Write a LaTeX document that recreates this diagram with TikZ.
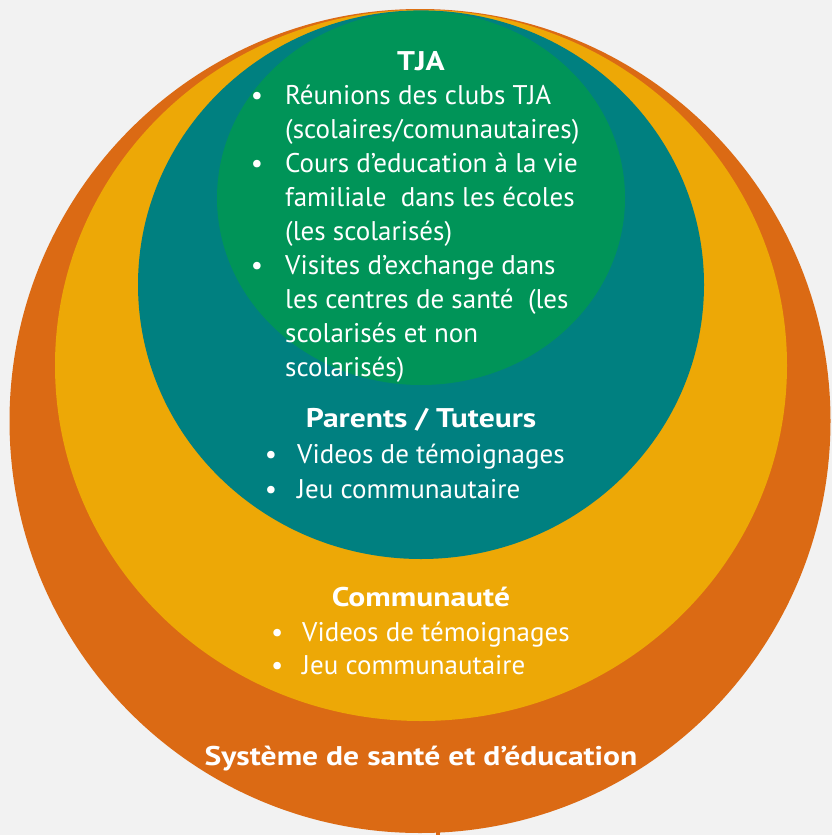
\documentclass[tikz,border=0pt]{standalone}
\usepackage{fontspec}
\setmainfont{PT Sans}
\newfontfamily\titrefont[FakeStretch=1.17]{PT Sans}
\usetikzlibrary{positioning}
\definecolor{fondgris}{RGB}{242,242,242}
\definecolor{orangesys}{RGB}{219,106,20}
\definecolor{jaunecom}{RGB}{237,168,6}
\definecolor{bleupar}{RGB}{0,128,128}
\definecolor{verttja}{RGB}{0,148,88}
\newcommand{\bul}[1][22pt]{\llap{\textbullet\hspace{#1}}}

\begin{document}
\begin{tikzpicture}[x=1pt,y=-1pt,node distance=34pt]
\tikzstyle{titre}=[font=\fontsize{27}{34}\titrefont\bfseries, text=white, inner sep=0pt, anchor=base]
\tikzstyle{ligne}=[font=\fontsize{27}{34}\selectfont, text=white, inner sep=0pt, anchor=base west]
% fond et cercles
\fill[fondgris] (0,0) rectangle (832,835);
\fill[orangesys] (420,421) ellipse [x radius=410.5, y radius=412];
\fill[orangesys] (436,832) rectangle (440,835);
\fill[jaunecom] (421,365.4) ellipse [x radius=366, y radius=355.6];
\fill[bleupar] (421,284.7) ellipse [x radius=283, y radius=274.3];
\fill[verttja] (421,198) ellipse [x radius=204, y radius=187];
% TJA
\node (tja) [titre] at (421,70) {TJA};
\node (t1) [ligne] at (285,104) {\bul Réunions des clubs TJA};
\node (t2) [below=of t1.base west, ligne] {(scolaires/comunautaires)};
\node (t3) [below=of t2.base west, ligne] {\bul Cours d’education à la vie};
\node (t4) [below=of t3.base west, ligne] {familiale~ dans les écoles};
\node (t5) [below=of t4.base west, ligne] {(les scolarisés)};
\node (t6) [below=of t5.base west, ligne] {\bul Visites d’exchange dans};
\node (t7) [below=of t6.base west, ligne] {les centres de santé~ (les};
\node (t8) [below=of t7.base west, ligne] {scolarisés et non};
\node (t9) [below=of t8.base west, ligne] {scolarisés)};
% Parents / Tuteurs
\node (par) [titre] at (421,427) {Parents / Tuteurs};
\node (p1) [ligne] at (297,463) {\bul[20pt]Videos de témoignages};
\node (p2) [below=35pt of p1.base west, ligne] {\bul[20pt]Jeu communautaire};
% Communaute
\node (com) [titre] at (421,606) {Communauté};
\node (c1) [ligne] at (302,641) {\bul[19pt]Videos de témoignages};
\node (c2) [below=33pt of c1.base west, ligne] {\bul[19pt]Jeu communautaire};
% Systeme
\node (sys) [titre] at (421,765) {Système de santé et d’éducation};
\end{tikzpicture}
\end{document}
